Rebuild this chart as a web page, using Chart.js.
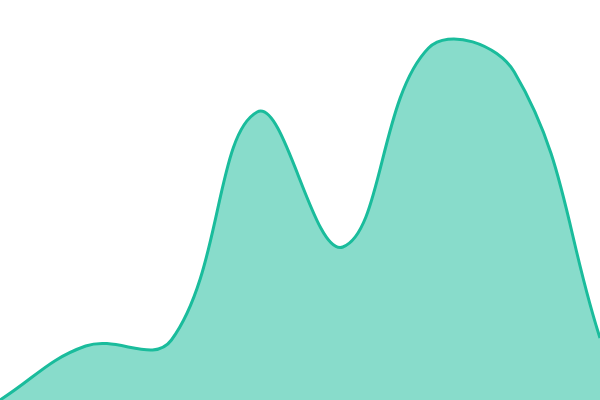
<!DOCTYPE html>
<html>
<head>
<meta charset="utf-8">
<script src="https://cdn.jsdelivr.net/npm/chart.js@4"></script>
<style>
  html, body { margin: 0; padding: 0; background: #fff; }
  #wrap { width: 600px; height: 400px; }
</style>
</head>
<body>
<div id="wrap"><canvas id="myChart"></canvas></div>
<script>
const labels = ['1', '2', '3', '4', '5', '6', '7', '8'];
const values = [0, 54, 60, 288, 153, 352, 328, 62];

const ctx = document.getElementById('myChart');

new Chart(ctx, {
    type: 'line',
    data: {
        labels: labels,
        datasets: [{
            data: values,
            borderColor: '#1abc9c',
            backgroundColor: 'rgba(26, 188, 156, 0.52)',
            borderWidth: 3,
            fill: true,
            tension: 0.4,
            pointRadius: 0
        }]
    },
    options: {
        responsive: true,
        maintainAspectRatio: false,
        animation: false,
        layout: { padding: 0 },
        plugins: {
            legend: { display: false },
            tooltip: { enabled: false }
        },
        scales: {
            x: { display: false },
            y: { display: false, min: 0, max: 400 }
        }
    }
});
</script>
</body>
</html>
